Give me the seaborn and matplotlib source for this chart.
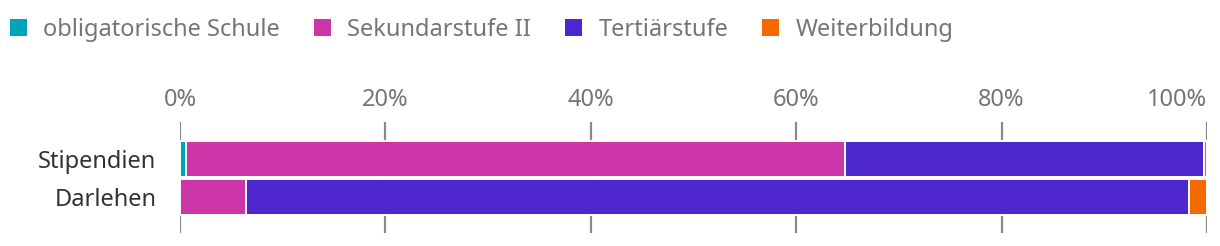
import numpy as np
import pandas as pd
import seaborn as sns
import matplotlib
matplotlib.use("Agg")
import matplotlib.pyplot as plt
from matplotlib.patches import Patch
from matplotlib.ticker import FuncFormatter

categories = ["Stipendien", "Darlehen"]
series_names = ["obligatorische Schule", "Sekundarstufe II", "Tertiärstufe", "Weiterbildung"]
obligatorische = [0.6, 0.0]
sekundar = [64.2, 6.4]
tertiaer = [34.9, 91.8]
weiterbildung = [0.3, 1.8]
xticks = [0, 20, 40, 60, 80, 100]
colors = ["#00A4BA", "#CC36A8", "#4E27CF", "#F46A00"]

sns.set_theme(style="white")
plt.rcParams["font.family"] = ["Noto Sans", "DejaVu Sans"]

fig = plt.figure(figsize=(12.2, 2.46), dpi=100)
ax = fig.add_axes([180 / 1220, 1 - 233 / 246, (1207 - 180) / 1220, (233 - 122) / 246])

values = [obligatorische, sekundar, tertiaer, weiterbildung]
left = np.zeros(len(categories))
ypos = np.arange(len(categories))
for vals, c in zip(values, colors):
    vals = np.array(vals, dtype=float)
    ax.barh(ypos, vals, left=left, height=0.93, color=c, edgecolor="white", linewidth=1.4, zorder=3)
    left += vals

ax.set_xlim(0, 100)
ax.set_ylim(1.947, -0.974)
ax.set_yticks(ypos)
ax.set_yticklabels(categories, color="#333333", fontsize=17)
ax.xaxis.tick_top()
ax.set_xticks(xticks)
ax.xaxis.set_major_formatter(FuncFormatter(lambda v, p: f"{int(v)}%"))
ax.tick_params(axis="x", colors="#757575", labelsize=17, length=0, pad=7)
ax.tick_params(axis="y", length=0, pad=17)
xlabs = ax.get_xticklabels()
for lab in xlabs:
    lab.set_color("#757575")
xlabs[-1].set_horizontalalignment("right")
for x in xticks:
    ax.axvline(x, color="#8a8a8a", linewidth=1.6, zorder=1)
for s in ax.spines.values():
    s.set_visible(False)
ax.grid(False)

handles = [Patch(facecolor=c, edgecolor="none", label=n) for c, n in zip(colors, series_names)]
leg = fig.legend(handles=handles, loc="upper left", bbox_to_anchor=(10 / 1220, 1 - 18 / 246), ncol=4,
                 frameon=False, fontsize=17, handlelength=0.7, handleheight=0.7,
                 handletextpad=0.7, columnspacing=1.45, borderpad=0, borderaxespad=0)
for t in leg.get_texts():
    t.set_color("#757575")

fig.savefig("out.png", dpi=100)
